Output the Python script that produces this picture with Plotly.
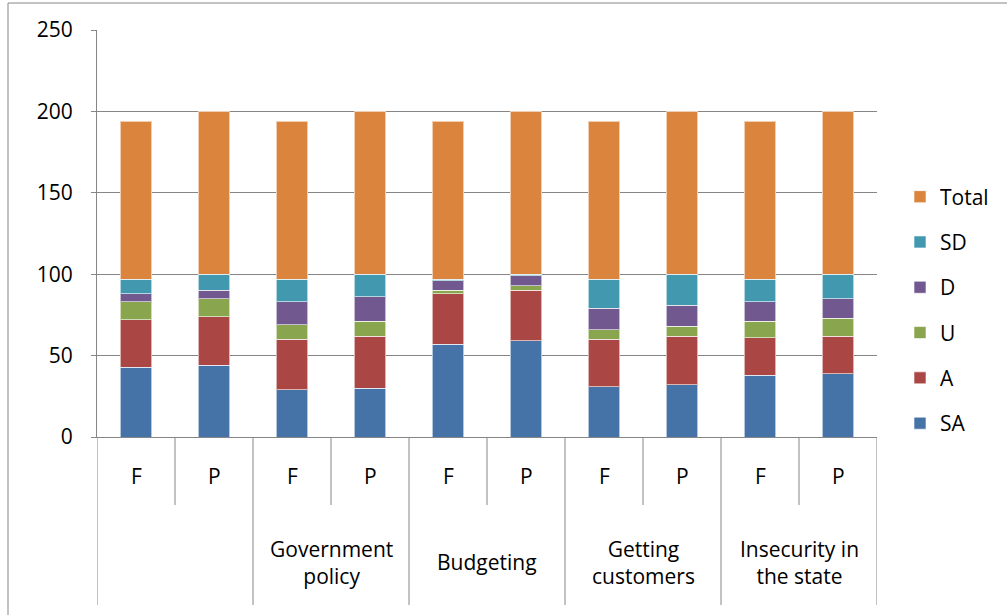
import plotly.graph_objects as go

groups = ["", "Government<br>policy", "Budgeting", "Getting<br>customers", "Insecurity in<br>the state"]
subs = ["F", "P"]

SA = [43, 44, 29, 30, 57, 59, 31, 32, 38, 39]
A = [29, 30, 31, 32, 31, 31, 29, 30, 23, 23]
U = [11, 11, 9, 9, 2, 3, 6, 6, 10, 11]
D = [5, 5, 14, 15, 6, 6, 13, 13, 12, 12]
SD = [9, 10, 14, 14, 1, 1, 18, 19, 14, 15]
Total = [97, 100, 97, 100, 97, 100, 97, 100, 97, 100]

series = [("SA", SA, "#4572A7"), ("A", A, "#AA4643"), ("U", U, "#89A54E"),
          ("D", D, "#71588F"), ("SD", SD, "#4198AF"), ("Total", Total, "#DB843D")]

n = len(groups) * len(subs)
xs = list(range(n))
sub_labels = [s for g in groups for s in subs]

FONT = "Open Sans"
FS = 21
GRID = "#868686"

fig = go.Figure()
for i, (name, vals, col) in enumerate(series):
    fig.add_trace(go.Bar(x=xs, y=vals, name=name, width=0.4,
                         marker=dict(color=col, line=dict(color="rgba(255,255,255,0.6)", width=1)),
                         legendgroup=name, legendrank=1000 - i))

# plot area geometry (px)
L, R, T, B = 97, 130, 30, 178
W, H = 1007, 615
pw, ph = W - L - R, H - T - B

def py(px):  # pixel y -> paper y
    return (H - B - px) / ph

def pxx(px):  # pixel x -> paper x
    return (px - L) / pw

shapes = []
for k in range(n + 1):
    xb = k - 0.5
    is_group = (k % len(subs) == 0)
    shapes.append(dict(type="line", xref="x", yref="paper", x0=xb, x1=xb,
                       y0=0, y1=py(605) if is_group else py(505),
                       line=dict(color=GRID, width=1)))
shapes.append(dict(type="line", xref="paper", yref="paper", x0=pxx(8), x1=pxx(8),
                   y0=py(3), y1=py(620), line=dict(color=GRID, width=1)))
shapes.append(dict(type="line", xref="paper", yref="paper", x0=pxx(8), x1=pxx(1010),
                   y0=py(3), y1=py(3), line=dict(color=GRID, width=1)))

annotations = []
for i, s in enumerate(sub_labels):
    annotations.append(dict(x=i, y=py(476), xref="x", yref="paper", text=s, showarrow=False,
                            font=dict(family=FONT, size=FS, color="black"),
                            xanchor="center", yanchor="middle"))
for g, gl in enumerate(groups):
    if gl:
        annotations.append(dict(x=g * len(subs) + 0.5, y=py(562), xref="x", yref="paper", text=gl,
                                showarrow=False, font=dict(family=FONT, size=FS, color="black"),
                                xanchor="center", yanchor="middle", align="center"))

fig.update_layout(
    barmode="stack",
    width=W, height=H,
    margin=dict(l=L, r=R, t=T, b=B, pad=0, autoexpand=False),
    paper_bgcolor="white", plot_bgcolor="white",
    font=dict(family=FONT, size=FS, color="black"),
    shapes=shapes, annotations=annotations,
    legend=dict(x=pxx(900), y=py(310), xanchor="left", yanchor="middle",
                traceorder="grouped", tracegroupgap=15,
                font=dict(family=FONT, size=FS, color="black"),
                itemwidth=30, bgcolor="rgba(0,0,0,0)"),
    xaxis=dict(range=[-0.5, n - 0.5], showticklabels=False, showgrid=False, zeroline=False,
               showline=True, linecolor=GRID, linewidth=1, ticks=""),
    yaxis=dict(range=[0, 250], tickvals=[0, 50, 100, 150, 200, 250], showgrid=True,
               gridcolor=GRID, gridwidth=1, zeroline=False, showline=True, linecolor=GRID,
               linewidth=1, ticks="outside", ticklen=5, tickcolor=GRID,
               ticklabelstandoff=14, tickfont=dict(family=FONT, size=FS, color="black")),
)

fig.write_html("out.html", config={"displayModeBar": False},
               post_script="document.body.style.margin='0';document.body.style.overflow='hidden';")
